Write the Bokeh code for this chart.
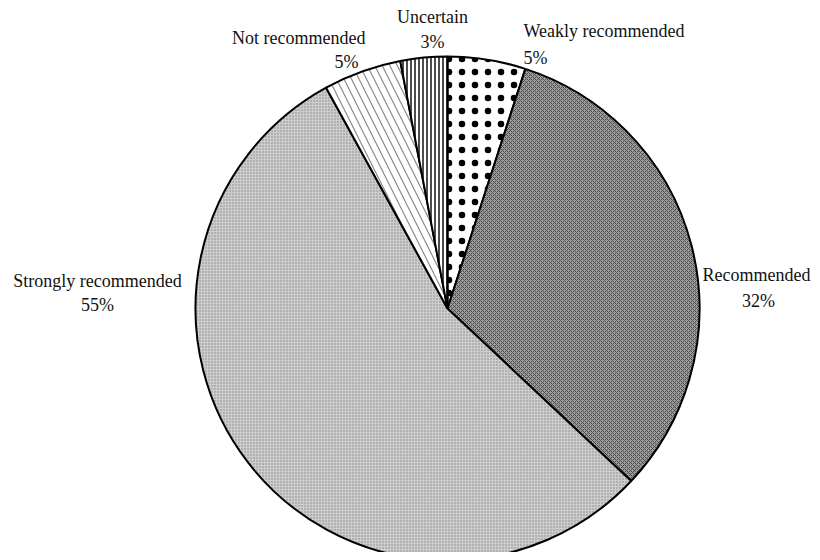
from bokeh.plotting import figure
from bokeh.models import Range1d, ColumnDataSource
from bokeh.embed import file_html
from bokeh.resources import INLINE
from bokeh.core.properties import value
import math

# ---- data (clockwise from 12 o'clock) ----
categories = ["Weakly recommended", "Recommended", "Strongly recommended",
              "Not recommended", "Uncertain"]
percents = [5, 32, 55, 5, 3]
pct_labels = ["5%", "32%", "55%", "5%", "3%"]

# ---- styles ----
fills = ["white", "#9e9e9e", "#cdcdcd", "white", "white"]
hatches = ["dot", "diagonal_cross", "dot", "left_diagonal_line", "vertical_line"]
hatch_colors = ["black", "#4a4a4a", "#858585", "#8a8a8a", "black"]
hatch_scales = [13, 4, 3, 15, 4]
hatch_weights = [0.8, 1, 0.8, 1.2, 1.4]

W, H = 812, 552
# data units = screen pixels; data y = H - screen y
p = figure(width=W, height=H, output_backend="svg", toolbar_location=None,
           x_range=Range1d(0, W), y_range=Range1d(0, H),
           min_border=0, outline_line_color=None)
p.axis.visible = False
p.grid.visible = False
p.background_fill_color = "white"

cx, cy, r = 447, H - 308, 252

total = sum(percents)
starts, ends = [], []
cum = 0.0
for v in percents:
    a0 = cum / total * 2 * math.pi
    cum += v
    a1 = cum / total * 2 * math.pi
    starts.append(math.pi / 2 - a1)
    ends.append(math.pi / 2 - a0)

src = ColumnDataSource(dict(start=starts, end=ends, fill=fills, hatch=hatches,
                            hcol=hatch_colors, hscale=hatch_scales,
                            hw=hatch_weights, cat=categories))
p.wedge(x=cx, y=cy, radius=r, start_angle="start", end_angle="end",
        direction="anticlock", source=src, fill_color="fill",
        hatch_pattern="hatch", hatch_color="hcol", hatch_scale="hscale",
        hatch_weight="hw", line_color="black", line_width=2)

# ---- labels (layout positions in screen pixels) ----
name_x = [523, 756, 97, 365, 432]
name_y = [30, 274, 280, 37, 16]
pct_x = [523, 758, 97, 358, 432]
pct_y = [57, 300, 304, 61, 41]
aligns = ["left", "center", "center", "right", "center"]

lab = ColumnDataSource(dict(nx=name_x, ny=[H - v for v in name_y],
                            px=pct_x, py=[H - v for v in pct_y],
                            name=categories, pct=pct_labels, al=aligns))
for xs, ys, t in (("nx", "ny", "name"), ("px", "py", "pct")):
    p.text(x=xs, y=ys, text=t, source=lab, text_align="al",
           text_baseline="middle", text_font=value("Liberation Serif"),
           text_font_size="18px", text_color="#111111")

open("out.html", "w").write(file_html(p, INLINE))
